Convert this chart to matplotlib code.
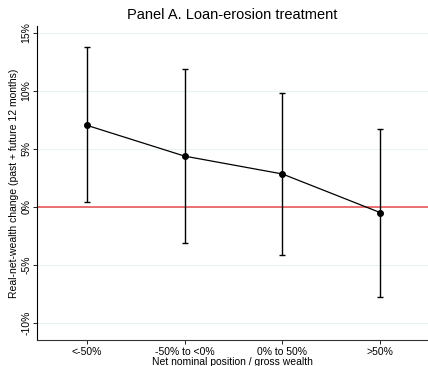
import numpy as np
import matplotlib
matplotlib.use("Agg")
import matplotlib.pyplot as plt
from matplotlib.ticker import FuncFormatter

# Data
categories = ["<-50%", "-50% to <0%", "0% to 50%", ">50%"]
estimate = [7.03, 4.37, 2.83, -0.50]
ci_upper = [13.8, 11.85, 9.86, 6.7]
ci_lower = [0.43, -3.1, -4.2, -7.8]
yticks = [-10, -5, 0, 5, 10, 15]

plt.rcParams['font.family'] = ['Liberation Sans', 'DejaVu Sans']

fig = plt.figure(figsize=(4.28, 3.66), dpi=100)
ax = fig.add_axes([37/428, 26/366, 1 - 37/428, (340 - 26)/366])

x = np.arange(1, len(categories) + 1)
est = np.array(estimate)
up = np.array(ci_upper)
lo = np.array(ci_lower)

# light gridlines and the red zero line
for yv in yticks:
    ax.axhline(yv, color='#eaf2f3', linewidth=0.8, zorder=0)
ax.axhline(0, color='#e8595a', linewidth=1.2, zorder=1)

ax.errorbar(x, est, yerr=[est - lo, up - est], fmt='none', ecolor='black',
            elinewidth=1.0, capsize=2.0, capthick=1.0, zorder=2)
ax.plot(x, est, color='black', linewidth=0.9, marker='o', markersize=4, zorder=3)

ax.set_xlim(0.49, 4.49)
ax.set_ylim(-11.5, 15.6)
ax.set_xticks(x)
ax.set_xticklabels(categories, fontsize=7.5)
ax.set_yticks(yticks)
ax.yaxis.set_major_formatter(FuncFormatter(lambda v, p: f"{v:g}%"))
for lab in ax.get_yticklabels():
    lab.set_rotation(90)
    lab.set_va('center')
    lab.set_fontsize(7.5)
ax.tick_params(axis='x', length=3, width=0.6, pad=2)
ax.tick_params(axis='y', length=3, width=0.6, pad=1)

for s in ['top', 'right']:
    ax.spines[s].set_visible(False)
ax.spines['left'].set_linewidth(0.8)
ax.spines['bottom'].set_linewidth(0.8)
ax.spines['bottom'].set_color('#333333')

ax.set_xlabel("Net nominal position / gross wealth", fontsize=7.5, labelpad=0)
ax.set_ylabel("Real-net-wealth change (past + future 12 months)", fontsize=7.5, labelpad=2)
ax.set_title("Panel A. Loan-erosion treatment", fontsize=10.5, pad=5)

fig.savefig("out.png", dpi=100)
